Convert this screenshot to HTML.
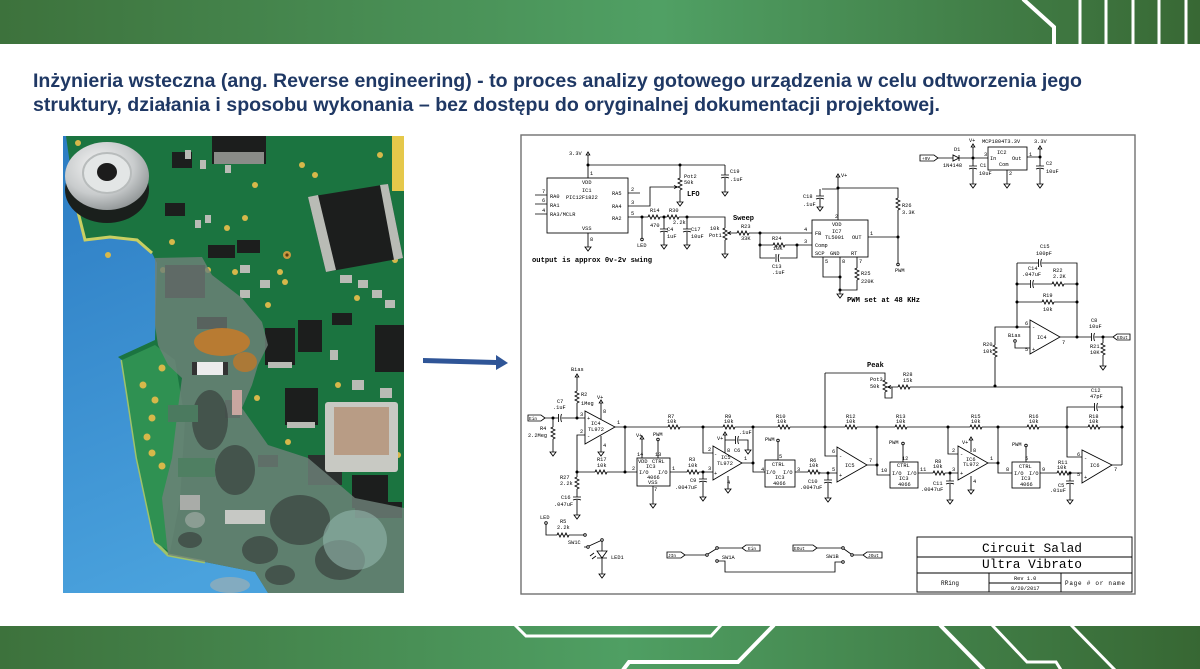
<!DOCTYPE html>
<html><head><meta charset="utf-8"><style>
html,body{margin:0;padding:0;background:#fff;width:1200px;height:669px;overflow:hidden}
svg{display:block}
.s text{font-family:"Liberation Mono",monospace;font-size:5.3px;fill:#000;stroke:none}
.s .b{font-weight:bold;font-size:7px}
.s .t{font-size:12.5px}
.s .m{font-size:6px}
</style></head><body>
<svg width="1200" height="669" viewBox="0 0 1200 669" xmlns="http://www.w3.org/2000/svg">
<defs>
<linearGradient id="ban" x1="0" x2="1" y1="0" y2="0">
<stop offset="0" stop-color="#3d723c"/><stop offset="0.55" stop-color="#50a064"/><stop offset="1" stop-color="#386834"/></linearGradient>
<linearGradient id="ban2" x1="0" x2="1" y1="0" y2="0">
<stop offset="0" stop-color="#3d723c"/><stop offset="0.52" stop-color="#4f9f63"/><stop offset="1" stop-color="#376733"/></linearGradient>
<linearGradient id="blue" x1="0" x2="0.3" y1="0" y2="1">
<stop offset="0" stop-color="#2c7cc3"/><stop offset="1" stop-color="#4aa2dd"/></linearGradient>
<radialGradient id="wash" cx="0.4" cy="0.35" r="0.7">
<stop offset="0" stop-color="#f4f4f4"/><stop offset="0.6" stop-color="#c9cccd"/><stop offset="1" stop-color="#8d9293"/></radialGradient>
<clipPath id="pc"><rect x="63" y="136" width="341" height="457"/></clipPath>
<path id="rh" d="M0 0l1-2 2 4 2-4 2 4 2-4 2 4 1-2"/>
<path id="rv" d="M0 0l-2 1 4 2-4 2 4 2-4 2 4 2-2 1"/>
<path id="gnd" d="M0 0v2M-3 2h6L0 6Z"/>
<path id="cv" d="M-4 0h8M-4 3q4-1.6 8 0"/>
<path id="ch" d="M-1.5-4v8M1.5-4q-1.5 4 0 8"/>
<path id="up" d="M0 0V-2M-1.8-2L0-5L1.8-2Z"/>
<circle id="oc" r="1.3"/>
<circle id="jd" r="1.1" fill="#000"/>
</defs>

<!-- banners -->
<rect x="0" y="0" width="1200" height="44" fill="url(#ban)"/>
<g stroke="#fff" fill="none">
<polyline points="1023,-1 1054,27 1054,45" stroke-width="4"/>
<path d="M1080 0V44M1106 0V44M1133 0V44M1159 0V44M1186 0V44" stroke-width="3"/>
</g>
<rect x="0" y="626" width="1200" height="43" fill="url(#ban2)"/>
<g stroke="#fff" fill="none">
<polyline points="515,625 526,636 711,636 721,625" stroke-width="3"/>
<polyline points="774,625 738,662 629,662 623,670" stroke-width="4"/>
<line x1="940" y1="625" x2="984" y2="670" stroke-width="4"/>
<polyline points="992,625 1027,662 1056,662 1061,670" stroke-width="3"/>
<line x1="1071" y1="625" x2="1115" y2="670" stroke-width="3"/>
</g>

<!-- title -->
<g font-family="Liberation Sans, sans-serif" font-weight="bold" font-size="19" fill="#1f3864">
<text x="33" y="87" textLength="1049" lengthAdjust="spacingAndGlyphs">Inżynieria wsteczna (ang. Reverse engineering) - to proces analizy gotowego urządzenia w celu odtworzenia jego</text>
<text x="33" y="111" textLength="907" lengthAdjust="spacingAndGlyphs">struktury, działania i sposobu wykonania – bez dostępu do oryginalnej dokumentacji projektowej.</text>
</g>

<!-- photo -->
<g clip-path="url(#pc)">
<rect x="63" y="136" width="341" height="457" fill="url(#blue)"/>
<polygon points="66,136 404,136 404,593 268,593 255,572 205,562 168,555 155,542 137,458 127,392 122,360 118,357 155,340 157,263 152,253 137,240 110,237 85,240 75,200" fill="#1b7440"/>
<polyline points="75,200 85,240 110,237 137,240 152,253" fill="none" stroke="#c9cf62" stroke-width="3"/>
<polyline points="122,360 127,392 137,458 155,542 168,555 205,562" fill="none" stroke="#9fc36a" stroke-width="3"/>
<polygon points="122,360 155,345 175,360 185,420 180,500 170,552 155,542 137,458 127,392" fill="#2f9152"/>
<g fill="#d7b84a">
<circle cx="162" cy="368" r="3.5"/><circle cx="143" cy="385" r="3.5"/><circle cx="155" cy="400" r="3.5"/><circle cx="152" cy="418" r="3.5"/><circle cx="147" cy="437" r="3.5"/><circle cx="152" cy="453" r="3.5"/><circle cx="162" cy="466" r="3.5"/>
<circle cx="255" cy="185" r="3"/><circle cx="172" cy="242" r="3"/><circle cx="208" cy="270" r="3"/><circle cx="235" cy="272" r="3"/><circle cx="257" cy="398" r="3"/><circle cx="288" cy="442" r="3"/><circle cx="338" cy="385" r="3"/><circle cx="357" cy="298" r="3"/><circle cx="398" cy="455" r="3"/><circle cx="280" cy="272" r="3"/><circle cx="268" cy="305" r="3"/><circle cx="285" cy="282" r="3"/><circle cx="302" cy="165" r="3"/><circle cx="315" cy="175" r="3"/><circle cx="163" cy="270" r="3"/><circle cx="227" cy="228" r="3"/><circle cx="245" cy="218" r="3"/><circle cx="78" cy="143" r="3"/><circle cx="108" cy="255" r="3"/><circle cx="200" cy="290" r="3"/><circle cx="395" cy="260" r="3"/><circle cx="380" cy="155" r="3"/>
</g>
<circle cx="287" cy="255" r="4" fill="#c89a40"/><circle cx="287" cy="255" r="1.6" fill="#5a3a10"/>
<ellipse cx="107" cy="190" rx="42" ry="33" fill="#1a1f1c"/>
<ellipse cx="107" cy="176" rx="42" ry="34" fill="url(#wash)"/>
<ellipse cx="107" cy="173" rx="24" ry="20" fill="#e3e6e6" stroke="#b8bcbc" stroke-width="2"/>
<ellipse cx="107" cy="172" rx="10" ry="9" fill="#1c1c1c"/>
<g fill="#1c1e1d">
<rect x="212" y="136" width="54" height="28"/>
<polygon points="308,197 388,184 403,258 326,272"/>
<rect x="172" y="152" width="20" height="16"/>
<rect x="165" y="203" width="20" height="13"/>
<rect x="208" y="245" width="27" height="13"/>
<rect x="237" y="240" width="23" height="13"/>
<rect x="265" y="328" width="30" height="37"/>
<rect x="298" y="320" width="24" height="32"/>
<rect x="375" y="325" width="29" height="47"/>
<rect x="285" y="388" width="33" height="37"/>
<rect x="332" y="313" width="20" height="12"/>
<rect x="308" y="455" width="34" height="30" fill="#2b302e"/>
<rect x="352" y="475" width="36" height="33"/>
<rect x="355" y="502" width="47" height="16"/>
<rect x="258" y="455" width="20" height="12"/>
<rect x="225" y="400" width="15" height="18"/>
</g>
<g fill="#b9bbb5">
<polygon points="308,197 318,195 336,270 326,272"/>
<polygon points="380,185 388,184 403,258 394,260"/>
<rect x="214" y="152" width="50" height="12" fill="#8a8c88"/>
<rect x="268" y="362" width="24" height="6"/>
<rect x="287" y="422" width="28" height="6"/>
<rect x="340" y="275" width="12" height="8"/><rect x="358" y="280" width="10" height="8"/><rect x="372" y="290" width="10" height="8"/><rect x="385" y="300" width="10" height="8"/>
<rect x="240" y="265" width="10" height="8"/><rect x="260" y="280" width="10" height="8"/><rect x="240" y="290" width="10" height="8"/>
<rect x="225" y="165" width="6" height="8"/><rect x="195" y="220" width="6" height="8"/><rect x="205" y="215" width="6" height="8"/>
<rect x="352" y="380" width="12" height="10"/><rect x="380" y="388" width="12" height="10"/>
<rect x="330" y="350" width="8" height="10"/>
<rect x="185" y="150" width="6" height="9"/><rect x="200" y="160" width="6" height="9"/>
</g>
<rect x="325" y="402" width="73" height="70" fill="#c8c9c3" rx="3"/>
<rect x="334" y="407" width="55" height="48" fill="#b89c85"/>
<polygon points="155,258 202,257 212,275 242,298 262,322 268,345 258,365 252,385 242,408 268,445 308,458 355,498 404,508 404,593 268,593 255,572 205,562 168,555 162,498 172,458 178,408 182,378 168,365 158,345 155,325" fill="#6e8179" opacity="0.82"/>
<g fill="#3a423f" opacity="0.7">
<ellipse cx="210" cy="420" rx="18" ry="30"/><ellipse cx="235" cy="470" rx="20" ry="25"/><ellipse cx="300" cy="520" rx="30" ry="25"/><ellipse cx="260" cy="550" rx="18" ry="14"/><ellipse cx="340" cy="560" rx="25" ry="20"/>
<ellipse cx="190" cy="540" rx="12" ry="8"/><ellipse cx="280" cy="575" rx="15" ry="10"/>
</g>
<g fill="#a9b2ad" opacity="0.6">
<ellipse cx="180" cy="285" rx="14" ry="10"/><ellipse cx="230" cy="585" rx="20" ry="8"/><ellipse cx="195" cy="520" rx="10" ry="8"/>
</g>
<rect x="165" y="265" width="40" height="33" fill="#5f6a66"/>
<rect x="197" y="317" width="30" height="12" fill="#58625e"/>
<ellipse cx="222" cy="342" rx="28" ry="14" fill="#c27b2b" opacity="0.9"/>
<ellipse cx="245" cy="362" rx="12" ry="10" fill="#b8782e" opacity="0.85"/>
<rect x="195" y="362" width="30" height="13" fill="#ececec"/>
<rect x="192" y="362" width="5" height="13" fill="#333"/><rect x="223" y="362" width="5" height="13" fill="#333"/>
<rect x="168" y="405" width="30" height="17" fill="#4b7a5f"/>
<rect x="178" y="458" width="37" height="19" fill="#4f7f62"/>
<rect x="180" y="495" width="20" height="15" fill="#a9aca8"/>
<rect x="225" y="510" width="40" height="14" fill="#c6c8c4"/>
<rect x="232" y="390" width="10" height="25" fill="#c9a6a0"/>
<ellipse cx="355" cy="540" rx="32" ry="30" fill="#93b5ac" opacity="0.6"/>
<rect x="392" y="136" width="12" height="55" fill="#e5c84a"/>
</g>

<!-- arrow -->
<polygon points="423,358 496,360 496,355 508,363 496,370 496,365 423,363" fill="#2f5597"/>

<!-- schematic -->
<g class="s" stroke="#000" stroke-width="0.85" fill="none">
<rect x="521" y="135" width="614" height="459" stroke="#707070" stroke-width="1.4"/>

<text x="569" y="155">3.3V</text>
<use href="#up" x="588" y="157"/>
<path d="M588 157V178M588 165H725M680 165V178M680 190V200M725 165V175M725 178V190"/>
<use href="#rv" x="680" y="178"/><use href="#gnd" x="680" y="200"/>
<use href="#cv" x="725" y="175"/><use href="#gnd" x="725" y="190"/>
<use href="#jd" x="588" y="165"/><use href="#jd" x="680" y="165"/>
<path d="M628 206H650V187H677M674 185.5L677.5 187L674 188.5"/>
<text x="684" y="178">Pot2</text><text x="684" y="184">50k</text><text class="b" x="687" y="196">LFO</text>
<text x="730" y="173">C19</text><text x="730" y="181">.1uF</text>
<rect x="547" y="178" width="81" height="55"/>
<text x="582" y="184">VDD</text><text x="582" y="192">IC1</text><text x="566" y="199">PIC12F1822</text>
<text x="550" y="198">RA0</text><text x="550" y="207">RA1</text><text x="550" y="216">RA3/MCLR</text>
<text x="612" y="195">RA5</text><text x="612" y="208">RA4</text><text x="612" y="220">RA2</text>
<text x="582" y="230">VSS</text>
<text x="590" y="175">1</text><text x="590" y="241">8</text><text x="542" y="193">7</text><text x="542" y="202">6</text><text x="542" y="212">4</text>
<text x="631" y="191">2</text><text x="631" y="204">3</text><text x="631" y="215">5</text>
<path d="M535 195H547M535 204H547M535 214H547M628 193H640M628 217H648M588 233V245M642 217V238"/>
<use href="#gnd" x="588" y="245"/><use href="#oc" x="642" y="239.5"/><use href="#jd" x="642" y="217"/>
<text x="637" y="247">LED</text>
<use href="#rh" x="648" y="217"/><path d="M660 217H667M679 217H725V228M725 240V252"/><use href="#rh" x="667" y="217"/>
<text x="650" y="212">R14</text><text x="650" y="227">470</text><text x="669" y="212">R30</text><text x="673" y="224">2.2k</text>
<path d="M664 217V229M664 232V243M687 217V229M687 232V243"/>
<use href="#cv" x="664" y="229"/><use href="#gnd" x="664" y="243"/><use href="#cv" x="687" y="229"/><use href="#gnd" x="687" y="243"/>
<use href="#jd" x="664" y="217"/><use href="#jd" x="687" y="217"/>
<text x="667" y="231">C4</text><text x="667" y="238">1uF</text><text x="691" y="231">C17</text><text x="691" y="238">10uF</text>
<use href="#rv" x="725" y="228"/><use href="#gnd" x="725" y="252"/>
<text x="710" y="230">10k</text><text x="709" y="237">Pot1</text>
<text class="b" x="733" y="220">Sweep</text>
<path d="M737 233H728M731 231.5L727.5 233L731 234.5"/>
<use href="#rh" x="737" y="233"/>
<text x="741" y="228">R23</text><text x="741" y="240">33K</text>
<path d="M749 233H812M760 233V258H775M780 258H797V245M760 245H773M785 245H812"/>
<use href="#rh" x="773" y="245"/><use href="#ch" x="777.5" y="258"/>
<use href="#jd" x="760" y="233"/><use href="#jd" x="760" y="245"/><use href="#jd" x="797" y="245"/>
<text x="772" y="240">R24</text><text x="773" y="250">10K</text><text x="772" y="268">C13</text><text x="772" y="274">.1uF</text>
<text x="804" y="231">4</text><text x="804" y="243">3</text>
<text class="b" x="532" y="262" textLength="120" lengthAdjust="spacingAndGlyphs">output is approx 0v-2v swing</text>

<rect x="812" y="220" width="56" height="37"/>
<text x="832" y="226">VDD</text><text x="832" y="233">IC7</text><text x="825" y="239">TL5001</text><text x="852" y="239">OUT</text>
<text x="815" y="235">FB</text><text x="815" y="247">Comp</text><text x="815" y="255">SCP</text><text x="830" y="255">GND</text><text x="851" y="255">RT</text>
<path d="M822 189H838M820 189V196M820 199V205"/>
<use href="#cv" x="820" y="196"/><use href="#gnd" x="820" y="205"/>
<text x="803" y="198">C18</text><text x="803" y="206">.1uF</text>
<use href="#up" x="838" y="179"/><text x="841" y="177">V+</text>
<path d="M838 179V220M838 188H898V198M898 210V263M868 237H898"/>
<use href="#rv" x="898" y="198"/><use href="#oc" x="898" y="264.5"/>
<use href="#jd" x="838" y="188"/><use href="#jd" x="898" y="237"/>
<text x="895" y="272">PWM</text><text x="902" y="207">R26</text><text x="902" y="214">3.3K</text>
<text x="835" y="218">2</text><text x="870" y="235">1</text>
<path d="M823 257V277H840M840 257V292M857 257V268M857 280V290H840"/>
<use href="#rv" x="857" y="268"/><use href="#gnd" x="840" y="292"/>
<use href="#jd" x="840" y="277"/><use href="#jd" x="840" y="290"/>
<text x="825" y="263">5</text><text x="842" y="263">8</text><text x="859" y="263">7</text>
<text x="861" y="275">R25</text><text x="861" y="283">220K</text>
<text class="b" x="847" y="302" textLength="73" lengthAdjust="spacingAndGlyphs">PWM set at 48 KHz</text>

<path d="M920 155H934L938 158L934 161H920Z"/><text x="922" y="160" style="font-size:4.5px">+9V</text>
<path d="M938 158H953M953 155V161L959 158ZM959 155V161M959 158H988"/>
<text x="954" y="151">D1</text><text x="943" y="167">1N4148</text>
<use href="#up" x="973" y="149"/><text x="969" y="142">V+</text>
<path d="M973 149V166M973 169V182"/><use href="#cv" x="973" y="166"/><use href="#gnd" x="973" y="182"/><use href="#jd" x="973" y="158"/>
<text x="980" y="167">C1</text><text x="979" y="175">10uF</text>
<rect x="988" y="147" width="39" height="23"/>
<text x="982" y="143">MCP1804T3.3V</text><text x="997" y="154">IC2</text><text x="990" y="160">In</text><text x="1012" y="160">Out</text><text x="999" y="166">Com</text>
<text x="984" y="156">3</text><text x="1029" y="156">1</text><text x="1009" y="175">2</text>
<path d="M1007 170V182M1027 157H1040M1040 151V166M1040 169V182"/><use href="#gnd" x="1007" y="182"/>
<use href="#up" x="1040" y="151"/><use href="#cv" x="1040" y="166"/><use href="#gnd" x="1040" y="182"/><use href="#jd" x="1040" y="157"/>
<text x="1034" y="143">3.3V</text><text x="1046" y="165">C2</text><text x="1046" y="173">10uF</text>

<path d="M1017 263H1038.5M1041.5 263H1077V337M1017 263V327M1017 284H1030.5M1033.5 284H1052M1064 284H1077M1017 302H1042M1054 302H1077"/>
<use href="#ch" x="1040" y="263"/><use href="#ch" x="1032" y="284"/><use href="#rh" x="1052" y="284"/><use href="#rh" x="1042" y="302"/>
<use href="#jd" x="1017" y="284"/><use href="#jd" x="1017" y="302"/><use href="#jd" x="1077" y="284"/><use href="#jd" x="1077" y="302"/><use href="#jd" x="1077" y="337"/>
<text x="1040" y="248">C15</text><text x="1036" y="255">100pF</text>
<text x="1028" y="270">C14</text><text x="1022" y="276">.047uF</text><text x="1053" y="272">R22</text><text x="1053" y="278">2.2K</text>
<text x="1043" y="297">R19</text><text x="1043" y="311">10k</text>
<path d="M1030 320V354L1060 337Z"/>
<text x="1032" y="329">-</text><text x="1032" y="351">+</text><text x="1037" y="339">IC4</text>
<text x="1025" y="325">6</text><text x="1025" y="351">5</text><text x="1062" y="344">7</text>
<path d="M1030 327H995V345M995 357V386"/><use href="#rv" x="995" y="345"/><use href="#jd" x="1017" y="327"/>
<text x="983" y="346">R20</text><text x="983" y="353">10k</text>
<path d="M1015 343V348H1030"/><use href="#oc" x="1015" y="341"/><text x="1008" y="337">Bias</text>
<path d="M1060 337H1091.5M1094.5 337H1113M1113 337L1117 334H1130V340H1117Z"/>
<use href="#ch" x="1093" y="337"/><text x="1117" y="339" style="font-size:4.5px">EOut</text>
<text x="1091" y="322">C8</text><text x="1089" y="328">10uF</text>
<path d="M1103 337V343M1103 355V364"/><use href="#rv" x="1103" y="343"/><use href="#gnd" x="1103" y="364"/><use href="#jd" x="1103" y="337"/>
<text x="1090" y="348">R21</text><text x="1090" y="354">10K</text>

<text class="b" x="867" y="367">Peak</text>
<path d="M825 373H885V380M885 392V398H892V387M898 387H888M891 385.5L887.5 387L891 388.5"/>
<use href="#rv" x="885" y="380"/><use href="#rh" x="898" y="387"/>
<text x="870" y="381">Pot3</text><text x="870" y="388">50k</text><text x="903" y="376">R28</text><text x="903" y="382">15k</text>
<path d="M910 387H1122V465M825 373V456H837"/><use href="#jd" x="995" y="386"/>

<path d="M615 427H668M680 427H723M735 427H778M790 427H845M857 427H895M907 427H970M982 427H1027M1039 427H1088M1100 427H1122"/>
<use href="#rh" x="668" y="427"/><use href="#rh" x="723" y="427"/><use href="#rh" x="778" y="427"/><use href="#rh" x="845" y="427"/><use href="#rh" x="895" y="427"/><use href="#rh" x="970" y="427"/><use href="#rh" x="1027" y="427"/><use href="#rh" x="1088" y="427"/>
<text x="668" y="418">R7</text><text x="667" y="423">10k</text><text x="725" y="418">R9</text><text x="724" y="423">10k</text>
<text x="776" y="418">R10</text><text x="777" y="423">10k</text><text x="846" y="418">R12</text><text x="846" y="423">10k</text>
<text x="896" y="418">R13</text><text x="896" y="423">10k</text><text x="971" y="418">R15</text><text x="971" y="423">10k</text>
<text x="1029" y="418">R16</text><text x="1029" y="423">10k</text><text x="1089" y="418">R18</text><text x="1089" y="423">10k</text>
<use href="#jd" x="625" y="427"/><use href="#jd" x="703" y="427"/><use href="#jd" x="753" y="427"/><use href="#jd" x="825" y="427"/><use href="#jd" x="877" y="427"/><use href="#jd" x="948" y="427"/><use href="#jd" x="998" y="427"/><use href="#jd" x="1067" y="427"/><use href="#jd" x="1122" y="427"/>

<path d="M585 411V444L615 427Z"/>
<text x="587" y="420">+</text><text x="587" y="438">-</text><text x="591" y="425">IC4</text><text x="588" y="431">TL972</text>
<text x="580" y="416">3</text><text x="580" y="433">2</text><text x="617" y="424">1</text><text x="603" y="413">8</text><text x="603" y="447">4</text>
<path d="M601 419V405M601 436V450"/><use href="#up" x="601" y="405"/><text x="597" y="399">V+</text><use href="#gnd" x="601" y="450"/>
<path d="M528 415H541L545 418L541 421H528Z"/><text x="529" y="420" style="font-size:4.5px">Ein</text>
<path d="M545 418H558.5M561.5 418H585"/><use href="#ch" x="560" y="418"/>
<use href="#jd" x="553" y="418"/><use href="#jd" x="577" y="418"/>
<text x="557" y="403">C7</text><text x="553" y="409">.1uF</text>
<path d="M553 418V427M553 439V450"/><use href="#rv" x="553" y="427"/><use href="#gnd" x="553" y="450"/>
<text x="540" y="430">R4</text><text x="528" y="437">2.2Meg</text>
<use href="#up" x="577" y="379"/><text x="571" y="371">Bias</text>
<path d="M577 379V391M577 403V418"/><use href="#rv" x="577" y="391"/>
<text x="581" y="396">R2</text><text x="581" y="405">1Meg</text>
<path d="M585 435H577V472H595M607 472H637M625 427V472"/><use href="#rh" x="595" y="472"/>
<use href="#jd" x="577" y="472"/><use href="#jd" x="625" y="472"/>
<text x="597" y="461">R17</text><text x="597" y="467">10k</text>
<path d="M577 472V477M577 489V497M577 500V513"/><use href="#rv" x="577" y="477"/><use href="#cv" x="577" y="497"/><use href="#gnd" x="577" y="513"/>
<text x="560" y="479">R27</text><text x="560" y="485">2.2k</text><text x="561" y="499">C16</text><text x="554" y="506">.047uF</text>

<rect x="637" y="458" width="33" height="28"/>
<text x="638" y="463">VDD</text><text x="652" y="463">CTRL</text><text x="646" y="468">IC3</text><text x="639" y="474">I/O</text><text x="658" y="474">I/O</text><text x="647" y="479">4066</text><text x="648" y="484">VSS</text>
<text x="637" y="456">14</text><text x="655" y="456">13</text><text x="654" y="491">7</text><text x="632" y="470">2</text><text x="672" y="470">1</text>
<path d="M642 458V441M658 458V441M653 486V502"/><use href="#up" x="642" y="441"/><use href="#oc" x="658" y="439.5"/><use href="#gnd" x="653" y="502"/>
<text x="636" y="437">V+</text><text x="653" y="436">PWM</text>
<path d="M670 472H687M699 472H713"/><use href="#rh" x="687" y="472"/><use href="#jd" x="703" y="472"/>
<text x="689" y="461">R3</text><text x="688" y="467">10k</text>
<path d="M703 472V479M703 482V495"/><use href="#cv" x="703" y="479"/><use href="#gnd" x="703" y="495"/>
<text x="690" y="482">C9</text><text x="675" y="489">.0047uF</text>

<path d="M713 446V480L742 463Z"/>
<text x="714" y="456">-</text><text x="714" y="475">+</text><text x="721" y="459">IC5</text><text x="717" y="465">TL972</text>
<text x="708" y="451">2</text><text x="708" y="470">3</text><text x="744" y="460">1</text><text x="727" y="452">8</text><text x="727" y="484">4</text>
<path d="M713 453H703V427M725 453V437M725 440H735.5M738.5 440H748V448M728 476V487"/>
<use href="#up" x="725" y="437"/><use href="#ch" x="737" y="440"/><use href="#gnd" x="748" y="448"/><use href="#gnd" x="728" y="487"/>
<text x="717" y="440">V+</text><text x="739" y="434">.1uF</text><text x="734" y="452">C6</text>
<path d="M742 463H753M753 427V472H765"/><use href="#jd" x="753" y="463"/>

<rect x="765" y="460" width="30" height="27"/>
<text x="772" y="466">CTRL</text><text x="766" y="474">I/O</text><text x="783" y="474">I/O</text><text x="775" y="479">IC3</text><text x="773" y="485">4066</text>
<text x="761" y="471">4</text><text x="797" y="471">3</text><text x="779" y="458">5</text>
<path d="M778 460V442"/><use href="#oc" x="778" y="440.5"/><text x="765" y="441">PWM</text>
<path d="M795 472H808M820 473H837"/><use href="#rh" x="808" y="472"/><use href="#jd" x="828" y="473"/>
<text x="810" y="462">R6</text><text x="809" y="467">10k</text>
<path d="M828 473V480M828 483V496"/><use href="#cv" x="828" y="480"/><use href="#gnd" x="828" y="496"/>
<text x="808" y="483">C10</text><text x="800" y="489">.0047uF</text>

<path d="M837 447V482L867 465Z"/>
<text x="839" y="458">-</text><text x="839" y="477">+</text><text x="845" y="467">IC5</text>
<text x="832" y="453">6</text><text x="832" y="471">5</text><text x="869" y="462">7</text>
<path d="M867 465H877M877 427V475H890"/><use href="#jd" x="877" y="465"/>

<rect x="890" y="462" width="28" height="26"/>
<text x="897" y="467">CTRL</text><text x="892" y="475">I/O</text><text x="907" y="475">I/O</text><text x="899" y="480">IC3</text><text x="898" y="486">4066</text>
<text x="881" y="472">10</text><text x="920" y="471">11</text><text x="902" y="460">12</text>
<path d="M903 462V445"/><use href="#oc" x="903" y="443.5"/><text x="889" y="444">PWM</text>
<path d="M918 473H933M945 473H958"/><use href="#rh" x="933" y="473"/><use href="#jd" x="950" y="473"/>
<text x="935" y="463">R8</text><text x="933" y="468">10k</text>
<path d="M950 473V481M950 484V498"/><use href="#cv" x="950" y="481"/><use href="#gnd" x="950" y="498"/>
<text x="933" y="485">C11</text><text x="921" y="491">.0047uF</text>

<path d="M958 446V480L988 463Z"/>
<text x="960" y="456">-</text><text x="960" y="475">+</text><text x="966" y="461">IC6</text><text x="963" y="466">TL972</text>
<text x="952" y="452">2</text><text x="952" y="471">3</text><text x="973" y="452">8</text><text x="973" y="483">4</text><text x="990" y="460">1</text>
<path d="M958 454H948V427M971 452V442M971 476V488"/><use href="#up" x="971" y="442"/><use href="#gnd" x="971" y="488"/>
<text x="962" y="444">V+</text>
<path d="M988 463H998M998 427V473H1012"/><use href="#jd" x="998" y="463"/>

<rect x="1012" y="462" width="28" height="26"/>
<text x="1019" y="468">CTRL</text><text x="1014" y="475">I/O</text><text x="1029" y="475">I/O</text><text x="1021" y="480">IC3</text><text x="1020" y="486">4066</text>
<text x="1006" y="471">8</text><text x="1042" y="471">9</text><text x="1025" y="460">5</text>
<path d="M1026 462V447"/><use href="#oc" x="1026" y="445.5"/><text x="1012" y="446">PWM</text>
<path d="M1040 473H1057M1069 473H1082"/><use href="#rh" x="1057" y="473"/><use href="#jd" x="1070" y="473"/>
<text x="1058" y="464">R11</text><text x="1057" y="469">10k</text>
<path d="M1070 473V481M1070 484V498"/><use href="#cv" x="1070" y="481"/><use href="#gnd" x="1070" y="498"/>
<text x="1058" y="487">C5</text><text x="1050" y="492">.01uF</text>

<path d="M1082 450V483L1112 465Z"/>
<text x="1084" y="460">-</text><text x="1084" y="479">+</text><text x="1090" y="467">IC6</text>
<text x="1077" y="456">6</text><text x="1077" y="476">5</text><text x="1114" y="471">7</text>
<path d="M1082 457H1067V407H1094.5M1097.5 407H1122M1112 465H1122"/><use href="#ch" x="1096" y="407"/>
<use href="#jd" x="1122" y="407"/><use href="#jd" x="1067" y="427"/>
<text x="1091" y="392">C12</text><text x="1090" y="398">47pF</text>

<text x="540" y="519">LED</text><use href="#oc" x="546" y="523"/>
<path d="M546 524.5V535H557M569 535H583.5"/><use href="#rh" x="557" y="535"/><use href="#oc" x="585" y="535"/>
<text x="560" y="523">R5</text><text x="557" y="529">2.2k</text>
<text x="568" y="544">SW1C</text>
<path d="M584 547H586.7M589 546L600.8 540.6M602 541.5V551M597 551H607L602 558ZM597 558H607M602 558V572M594 553L590 556M596 556L592 559"/>
<use href="#oc" x="588" y="547"/><use href="#oc" x="602" y="540"/><use href="#gnd" x="602" y="572"/>
<text x="611" y="559">LED1</text>
<path d="M667 552H681L685 555L681 558H667Z"/><text x="668" y="557" style="font-size:4.5px">JIn</text>
<path d="M685 555H705.7M708 554L716 549M718.3 548H742M742 548L746 545H760V551H746Z"/>
<use href="#oc" x="707" y="555"/><use href="#oc" x="717" y="548"/><use href="#oc" x="717" y="561"/>
<text x="748" y="550" style="font-size:4.5px">Ein</text><text x="722" y="559">SW1A</text>
<path d="M718.3 561H725V572H835V562H841.7"/>
<path d="M793 545H813L817 548L813 551H793Z"/><text x="794" y="550" style="font-size:4.5px">EOut</text>
<path d="M817 548H841.7M844 549L851 554M853.3 555H863M863 555L867 552H882V558H867Z"/>
<use href="#oc" x="843" y="548"/><use href="#oc" x="852" y="555"/><use href="#oc" x="843" y="562"/>
<text x="868" y="557" style="font-size:4.5px">JOut</text><text x="826" y="558">SW1B</text>

<rect x="917" y="537" width="215" height="55" stroke-width="0.9"/>
<path d="M917 557H1132M917 573H1132M989 573V592M1061 573V592M989 583H1061" stroke-width="0.9"/>
<text class="t" x="982" y="552" textLength="100" lengthAdjust="spacingAndGlyphs">Circuit Salad</text>
<text class="t" x="982" y="568" textLength="100" lengthAdjust="spacingAndGlyphs">Ultra Vibrato</text>
<text class="m" x="941" y="585">RRing</text>
<text x="1014" y="580">Rev 1.0</text><text x="1011" y="590">8/20/2017</text>
<text class="m" x="1065" y="585" textLength="60">Page # or name</text>
</g>
</svg>
</body></html>
